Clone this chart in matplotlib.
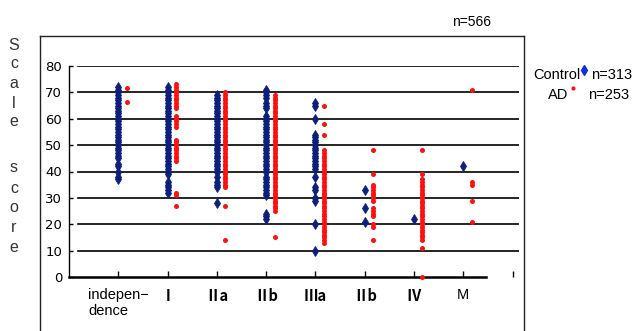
import matplotlib.pyplot as plt
from matplotlib.lines import Line2D

# categories (x axis)
cats = ['indepen−\ndence', 'Ⅰ', 'Ⅱa', 'Ⅱb', 'Ⅲa', 'Ⅱb', 'Ⅳ', 'M']

# Control scores per category
ctrl_indep = [72, 71, 70, 69, 68, 67, 66, 65, 64, 63, 62, 61, 60, 59, 58, 57, 56, 55,
              54, 53, 52, 51, 50, 49, 48, 47, 46, 45, 43, 42, 40, 38, 37]
ctrl_I = [72, 71, 70, 69, 68, 67, 66, 65, 64, 63, 62, 61, 60, 59, 58, 57, 56, 55, 54,
          53, 52, 51, 50, 49, 48, 47, 46, 45, 44, 43, 42, 41, 40, 39, 36, 35, 34, 33, 32]
ctrl_IIa = [69, 68, 67, 66, 65, 64, 63, 62, 61, 60, 59, 58, 57, 56, 55, 54, 53, 52, 51,
            50, 49, 48, 47, 46, 45, 44, 43, 42, 41, 40, 38, 36, 35, 34, 28]
ctrl_IIb = [71, 70, 69, 68, 66, 65, 64, 61, 60, 59, 58, 57, 56, 55, 54, 53, 52, 51, 50,
            49, 48, 47, 46, 45, 44, 43, 42, 41, 40, 38, 37, 36, 35, 34, 33, 32, 31,
            24, 23, 22]
ctrl_IIIa = [66, 65, 60, 54, 53, 52, 51, 50, 49, 48, 47, 46, 45, 44, 43, 42, 41, 38,
             34, 33, 30, 29, 20, 10]
ctrl_IIb2 = [33, 26, 21]
ctrl_IV = [22]
ctrl_M = [42]

# AD scores per category
ad_indep = [71.5, 66.5]
ad_I = [73, 72, 71, 70, 69, 68, 67, 66, 65, 64, 61, 60, 59, 58, 57, 52, 51, 50, 49,
        48, 47, 46, 45, 44, 32, 31, 27]
ad_IIa = [70, 69, 68, 67, 66, 65, 64, 63, 62, 61, 60, 59, 58, 57, 56, 55, 54, 53, 52,
          51, 50, 49, 48, 47, 46, 45, 44, 43, 42, 41, 40, 39, 38, 37, 36, 35, 34, 27, 14]
ad_IIb = [69, 68, 67, 66, 65, 64, 63, 62, 61, 60, 59, 58, 57, 56, 55, 54, 53, 52, 51,
          50, 49, 48, 47, 46, 45, 44, 43, 42, 41, 40, 39, 38, 37, 36, 35, 34, 33, 32,
          31, 30, 29, 28, 27, 26, 25, 15]
ad_IIIa = [65, 58, 54, 48, 47, 46, 45, 44, 43, 42, 41, 40, 39, 38, 37, 36, 35, 34, 33,
           32, 31, 30, 29, 28, 27, 26, 25, 24, 23, 22, 21, 20, 19, 18, 17, 16, 15, 14, 13]
ad_IIb2 = [48, 39, 35, 34, 33, 32, 31, 30, 29, 26, 25, 24, 23, 20, 19, 14]
ad_IV = [48, 39, 37, 36, 35, 34, 33, 32, 31, 30, 29, 28, 27, 26, 25, 24, 23, 22, 21,
         20, 19, 18, 17, 16, 15, 14, 11, 0]
ad_M = [71, 36, 35, 29, 21]

ctrl_all = [ctrl_indep, ctrl_I, ctrl_IIa, ctrl_IIb, ctrl_IIIa, ctrl_IIb2, ctrl_IV, ctrl_M]
ad_all = [ad_indep, ad_I, ad_IIa, ad_IIb, ad_IIIa, ad_IIb2, ad_IV, ad_M]

navy = '#0d1f7c'
red = '#ff1010'

fig = plt.figure(figsize=(6.37, 3.31), dpi=100)
W, H = 637, 331

# outer frame (bottom edge is cut off)
frame_kw = dict(color='#222222', lw=1.0, transform=fig.transFigure)
fig.add_artist(Line2D([40 / W, 40 / W], [0, 1 - 36 / H], **frame_kw))
fig.add_artist(Line2D([40 / W, 524 / W], [1 - 36 / H, 1 - 36 / H], **frame_kw))
fig.add_artist(Line2D([524 / W, 524 / W], [0, 1 - 36 / H], **frame_kw))

ax = fig.add_axes([69 / W, 1 - 277 / H, (519 - 69) / W, (277 - 66) / H])
ax.set_xlim(0, 9.13)
ax.set_ylim(0, 80)

# grid lines
for v in range(10, 90, 10):
    ax.axhline(v, xmin=0.021, xmax=1, color='black', lw=1.2, zorder=1)

for i, (c, a) in enumerate(zip(ctrl_all, ad_all)):
    x = i + 1
    ax.plot([x] * len(c), c, ls='none', marker='d', ms=5, mew=0.6, color=navy,
            mec=navy, zorder=3, clip_on=False)
    ax.plot([x + 0.17] * len(a), a, ls='none', marker='o', ms=3.6, color=red,
            mec=red, mew=0, zorder=3, clip_on=False)

for s in ['top', 'right']:
    ax.spines[s].set_visible(False)
ax.spines['left'].set_linewidth(1.0)
ax.spines['bottom'].set_linewidth(1.8)
ax.spines['bottom'].set_bounds(0, 8.46)

ax.set_yticks(range(0, 90, 10))
ax.set_yticklabels([str(v) for v in range(0, 90, 10)],
                   fontfamily=['Liberation Sans Narrow', 'DejaVu Sans'], fontsize=9.5)
ax.tick_params(axis='y', direction='in', length=3, width=1, pad=5)

ax.set_xticks(range(1, 10))
labels = ax.set_xticklabels(cats + [''], fontsize=10.5, multialignment='left')
for lab in labels:
    if lab.get_text().startswith('indepen') or lab.get_text() == 'M':
        lab.set_family('Liberation Sans')
    else:
        lab.set_family(['Noto Sans CJK JP', 'DejaVu Sans'])
        lab.set_fontweight('bold')
ax.tick_params(axis='x', direction='in', length=4, width=1, pad=8)

# stacked y label
letters = ['S', 'c', 'a', 'l', 'e', 's', 'c', 'o', 'r', 'e']
ys = [45, 63, 83, 103, 122, 168, 188, 208, 228, 248]
for ch, y in zip(letters, ys):
    fig.text(14 / W, 1 - y / H, ch, ha='center', va='center', fontsize=11.5,
             family='Liberation Sans', color='#333333')

fig.text(472 / W, 1 - 22 / H, 'n=566', ha='center', va='center', fontsize=10,
         family='Liberation Sans')

# legend texts
fig.text(580 / W, 1 - 75 / H, 'Control', ha='right', va='center', fontsize=10.5,
         family='Liberation Sans')
fig.text(591 / W, 1 - 75 / H, 'n=313', ha='left', va='center', fontsize=10.5,
         family='Liberation Sans')
fig.text(568 / W, 1 - 95 / H, 'AD', ha='right', va='center', fontsize=10.5,
         family='Liberation Sans')
fig.text(588 / W, 1 - 95 / H, 'n=253', ha='left', va='center', fontsize=10.5,
         family='Liberation Sans')
fig.add_artist(Line2D([584 / W], [1 - 70 / H], marker='d', ms=5, color='#1030e0',
                      ls='none', transform=fig.transFigure))
fig.add_artist(Line2D([573 / W], [1 - 88 / H], marker='o', ms=3, color=red,
                      mew=0, ls='none', transform=fig.transFigure))

fig.savefig('out.png', dpi=100)
